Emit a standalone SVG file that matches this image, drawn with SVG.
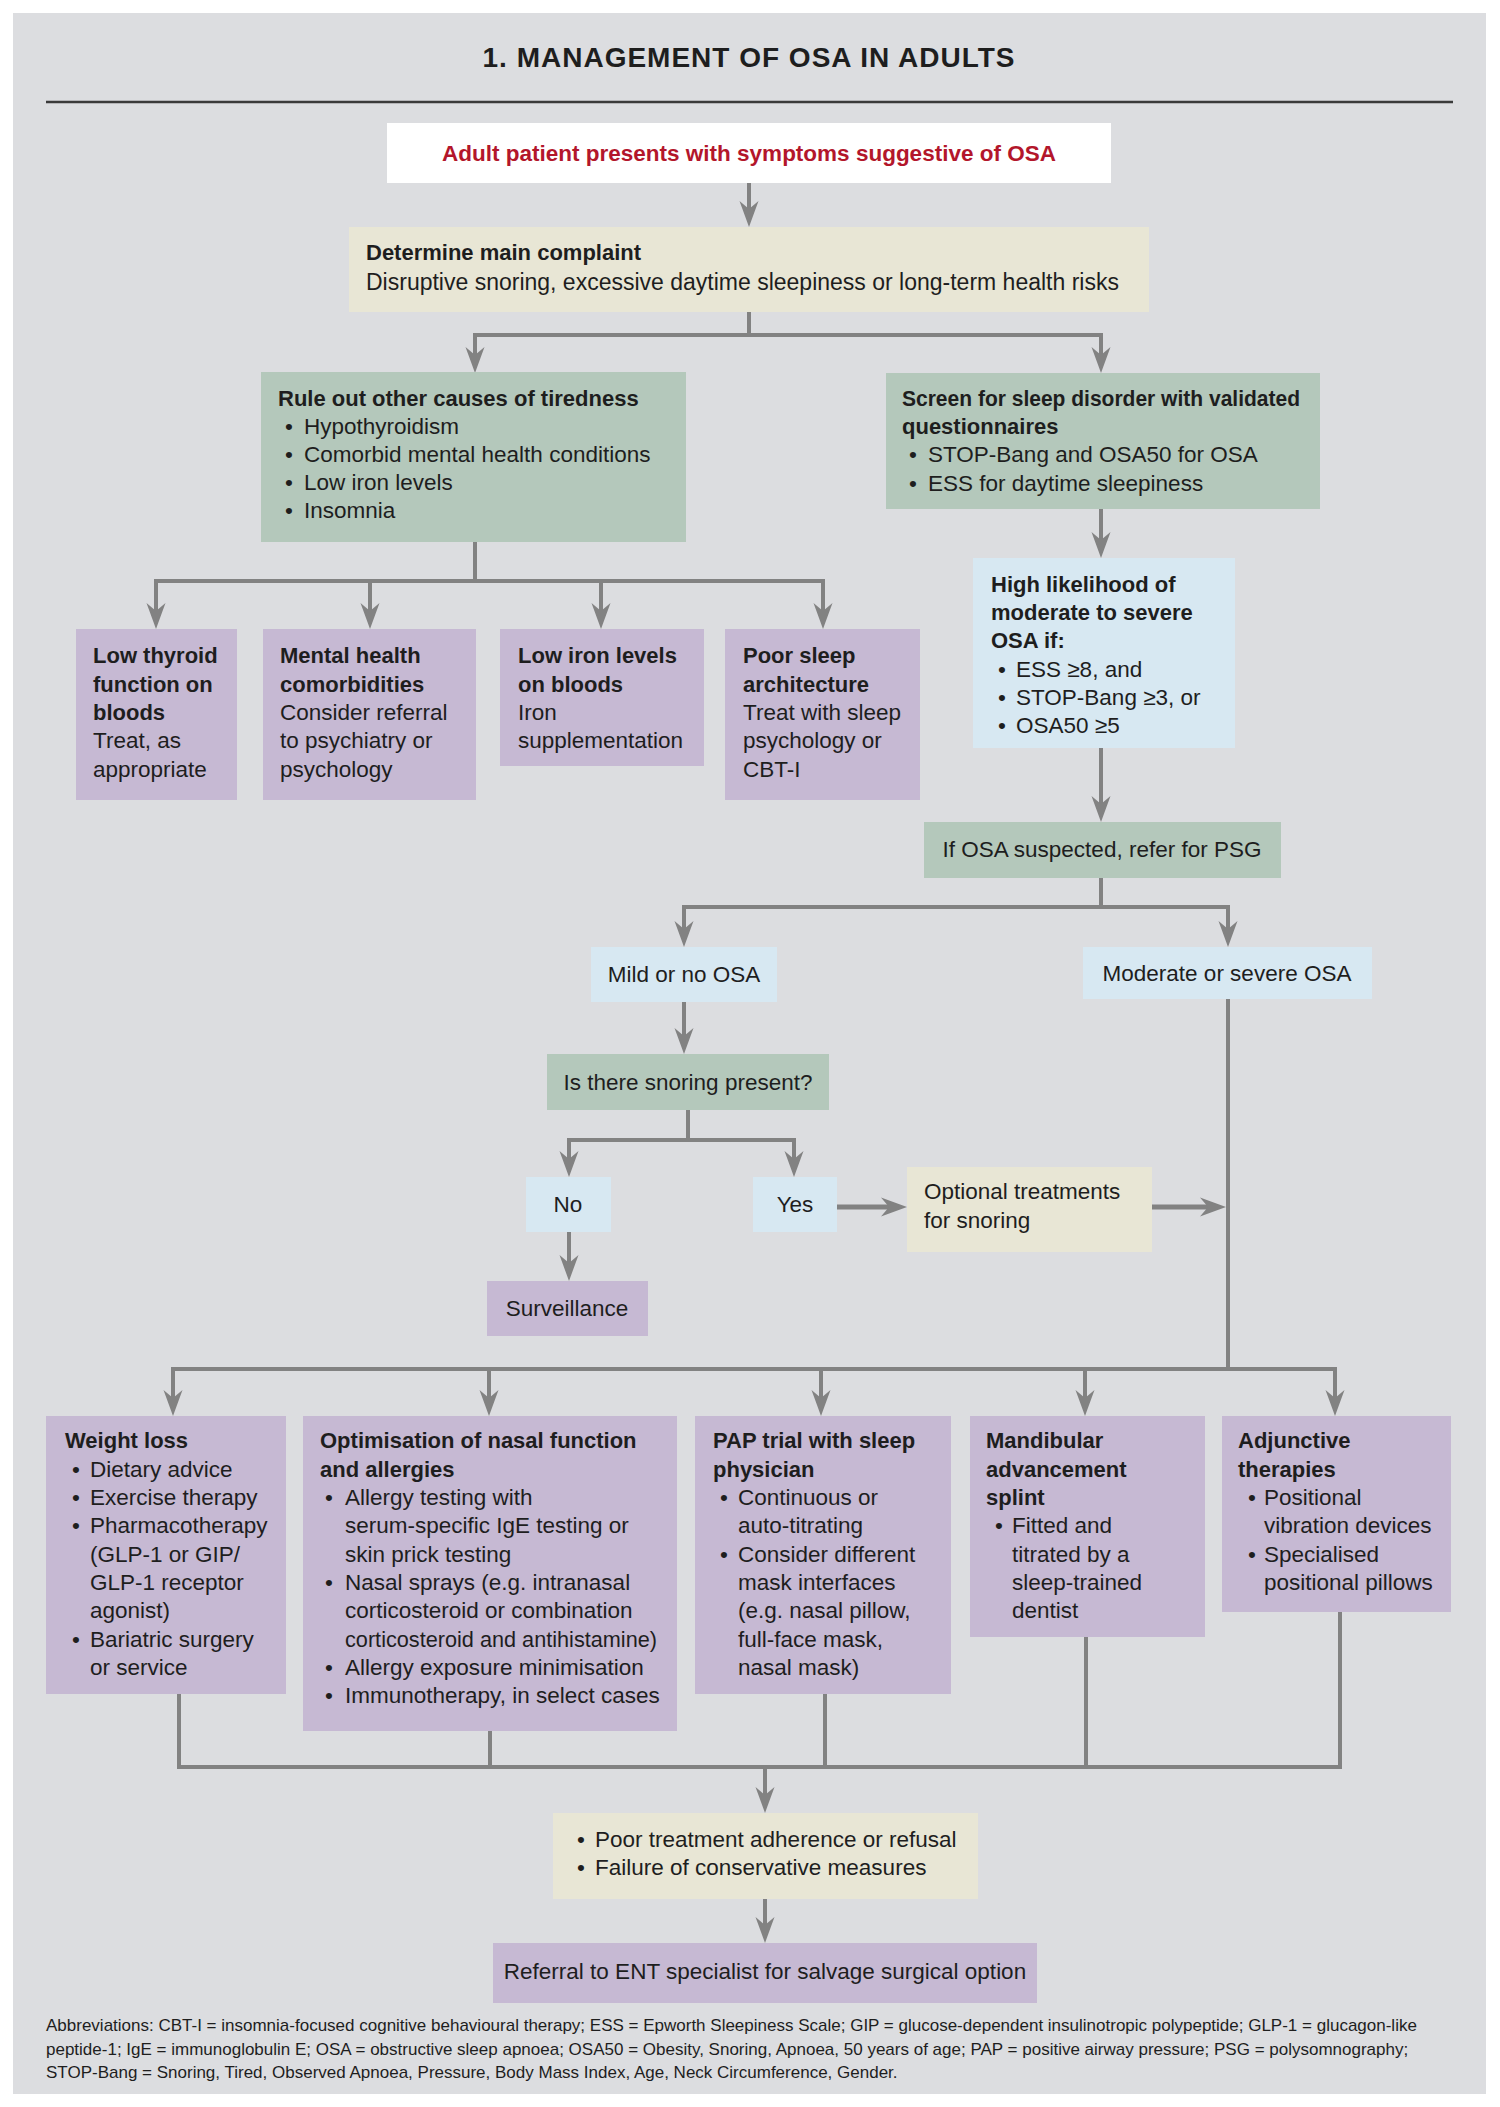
<svg xmlns="http://www.w3.org/2000/svg" width="1500" height="2107" viewBox="0 0 1500 2107">
<style>
.t{font-family:"Liberation Sans",Arial,sans-serif;font-size:22.5px;fill:#1e1e1e}
.b{font-weight:bold;font-size:22px}
.c{text-anchor:middle}
.ab{font-family:"Liberation Sans",Arial,sans-serif;font-size:17px;fill:#1e1e1e}
.green{fill:#b4c8bb}
.beige{fill:#e8e6d5}
.blue{fill:#d7e8f2}
.purple{fill:#c6b9d3}
.conn path{fill:none;stroke:#828282;stroke-width:4}
.conn path.thick{stroke-width:5}
</style>
<defs>
<marker id="ah" markerUnits="userSpaceOnUse" viewBox="-20 -12 32 24" markerWidth="32" markerHeight="24" refX="0" refY="0" orient="auto-start-reverse" overflow="visible">
<path d="M10,0 L-16,-9.5 L-8,0 L-16,9.5 Z" fill="#828282"/>
</marker>
</defs>
<rect x="0" y="0" width="1500" height="2107" fill="#ffffff"/>
<rect x="13" y="13" width="1473" height="2081" fill="#dcdde0"/>
<g id="title">
<text class="t b c" x="749" y="67" style="font-size:28px;letter-spacing:1px">1. MANAGEMENT OF OSA IN ADULTS</text>
<line x1="46" y1="102" x2="1453" y2="102" stroke="#3a3a3a" stroke-width="2.5"/>
</g>

<g class="conn" id="connectors">
<path d="M749,183 V217" marker-end="url(#ah)"/>
<path d="M749,312 V335"/>
<path d="M475,363 V335 H1101 V363" marker-start="url(#ah)" marker-end="url(#ah)"/>
<path d="M475,542 V581"/>
<path d="M156,619 V581 H823 V619" marker-start="url(#ah)" marker-end="url(#ah)"/>
<path d="M370,581 V619" marker-end="url(#ah)"/>
<path d="M601,581 V619" marker-end="url(#ah)"/>
<path d="M1101,509 V548" marker-end="url(#ah)"/>
<path d="M1101,748 V812" marker-end="url(#ah)"/>
<path d="M1101,878 V907"/>
<path d="M684,937 V907 H1228 V937" marker-start="url(#ah)" marker-end="url(#ah)"/>
<path d="M684,1002 V1044" marker-end="url(#ah)"/>
<path d="M688,1110 V1140"/>
<path d="M569,1167 V1140 H794 V1167" marker-start="url(#ah)" marker-end="url(#ah)"/>
<path d="M569,1232 V1271" marker-end="url(#ah)"/>
<path class="thick" d="M837,1207 H897" marker-end="url(#ah)"/>
<path class="thick" d="M1152,1207 H1216" marker-end="url(#ah)"/>
<path d="M1228,999 V1369"/>
<path d="M173,1406 V1369 H1335 V1406" marker-start="url(#ah)" marker-end="url(#ah)"/>
<path d="M489,1369 V1406" marker-end="url(#ah)"/>
<path d="M821,1369 V1406" marker-end="url(#ah)"/>
<path d="M1085,1369 V1406" marker-end="url(#ah)"/>
<path d="M179,1694 V1767 H1340 V1612"/>
<path d="M490,1731 V1767"/>
<path d="M825,1694 V1767"/>
<path d="M1086,1637 V1767"/>
<path d="M765,1767 V1803" marker-end="url(#ah)"/>
<path d="M765,1899 V1933" marker-end="url(#ah)"/>
</g>

<g id="start">
<rect x="387" y="123" width="724" height="60" fill="#ffffff"/>
<text class="t b c" x="749" y="161" style="fill:#b3162b;font-size:22.5px">Adult patient presents with symptoms suggestive of OSA</text>
</g>
<g id="complaint">
<rect class="beige" x="349" y="227" width="800" height="85"/>
<text class="t b" x="366" y="260">Determine main complaint</text>
<text class="t" x="366" y="290" style="font-size:23px">Disruptive snoring, excessive daytime sleepiness or long-term health risks</text>
</g>
<g id="ruleout">
<rect class="green" x="261" y="372" width="425" height="170"/>
<text class="t b" x="278" y="406">Rule out other causes of tiredness</text>
<text class="t" x="285" y="434">•</text><text class="t" x="304" y="434">Hypothyroidism</text>
<text class="t" x="285" y="462">•</text><text class="t" x="304" y="462">Comorbid mental health conditions</text>
<text class="t" x="285" y="490">•</text><text class="t" x="304" y="490">Low iron levels</text>
<text class="t" x="285" y="518">•</text><text class="t" x="304" y="518">Insomnia</text>
</g>
<g id="screen">
<rect class="green" x="886" y="373" width="434" height="136"/>
<text class="t b" x="902" y="406" textLength="398" lengthAdjust="spacingAndGlyphs">Screen for sleep disorder with validated</text>
<text class="t b" x="902" y="434">questionnaires</text>
<text class="t" x="909" y="462">•</text><text class="t" x="928" y="462">STOP-Bang and OSA50 for OSA</text>
<text class="t" x="909" y="491">•</text><text class="t" x="928" y="491">ESS for daytime sleepiness</text>
</g>
<g id="thyroid">
<rect class="purple" x="76" y="629" width="161" height="171"/>
<text class="t b" x="93" y="663">Low thyroid</text>
<text class="t b" x="93" y="692">function on</text>
<text class="t b" x="93" y="720">bloods</text>
<text class="t" x="93" y="748">Treat, as</text>
<text class="t" x="93" y="777">appropriate</text>
</g>
<g id="mental">
<rect class="purple" x="263" y="629" width="213" height="171"/>
<text class="t b" x="280" y="663">Mental health</text>
<text class="t b" x="280" y="692">comorbidities</text>
<text class="t" x="280" y="720">Consider referral</text>
<text class="t" x="280" y="748">to psychiatry or</text>
<text class="t" x="280" y="777">psychology</text>
</g>
<g id="iron">
<rect class="purple" x="500" y="629" width="204" height="137"/>
<text class="t b" x="518" y="663">Low iron levels</text>
<text class="t b" x="518" y="692">on bloods</text>
<text class="t" x="518" y="720">Iron</text>
<text class="t" x="518" y="748">supplementation</text>
</g>
<g id="sleeparch">
<rect class="purple" x="725" y="629" width="195" height="171"/>
<text class="t b" x="743" y="663">Poor sleep</text>
<text class="t b" x="743" y="692">architecture</text>
<text class="t" x="743" y="720">Treat with sleep</text>
<text class="t" x="743" y="748">psychology or</text>
<text class="t" x="743" y="777">CBT-I</text>
</g>
<g id="likelihood">
<rect class="blue" x="973" y="558" width="262" height="190"/>
<text class="t b" x="991" y="592">High likelihood of</text>
<text class="t b" x="991" y="620">moderate to severe</text>
<text class="t b" x="991" y="648">OSA if:</text>
<text class="t" x="998" y="677">•</text><text class="t" x="1016" y="677">ESS ≥8, and</text>
<text class="t" x="998" y="705">•</text><text class="t" x="1016" y="705">STOP-Bang ≥3, or</text>
<text class="t" x="998" y="733">•</text><text class="t" x="1016" y="733">OSA50 ≥5</text>
</g>
<g id="psg">
<rect class="green" x="924" y="822" width="357" height="56"/>
<text class="t c" x="1102" y="857">If OSA suspected, refer for PSG</text>
</g>
<g id="mild">
<rect class="blue" x="591" y="947" width="186" height="55"/>
<text class="t c" x="684" y="982">Mild or no OSA</text>
</g>
<g id="moderate">
<rect class="blue" x="1083" y="947" width="289" height="52"/>
<text class="t c" x="1227" y="981">Moderate or severe OSA</text>
</g>
<g id="snoring">
<rect class="green" x="547" y="1054" width="282" height="56"/>
<text class="t c" x="688" y="1090">Is there snoring present?</text>
</g>
<g id="no">
<rect class="blue" x="526" y="1177" width="85" height="55"/>
<text class="t c" x="568" y="1212">No</text>
</g>
<g id="yes">
<rect class="blue" x="753" y="1177" width="84" height="55"/>
<text class="t c" x="795" y="1212">Yes</text>
</g>
<g id="optional">
<rect class="beige" x="907" y="1167" width="245" height="85"/>
<text class="t" x="924" y="1199">Optional treatments</text>
<text class="t" x="924" y="1228">for snoring</text>
</g>
<g id="surveillance">
<rect class="purple" x="487" y="1281" width="161" height="55"/>
<text class="t c" x="567" y="1316">Surveillance</text>
</g>
<g id="weight">
<rect class="purple" x="46" y="1416" width="240" height="278"/>
<text class="t b" x="65" y="1448">Weight loss</text>
<text class="t" x="72" y="1477">•</text><text class="t" x="90" y="1477">Dietary advice</text>
<text class="t" x="72" y="1505">•</text><text class="t" x="90" y="1505">Exercise therapy</text>
<text class="t" x="72" y="1533">•</text><text class="t" x="90" y="1533">Pharmacotherapy</text>
<text class="t" x="90" y="1562">(GLP-1 or GIP/</text>
<text class="t" x="90" y="1590">GLP-1 receptor</text>
<text class="t" x="90" y="1618">agonist)</text>
<text class="t" x="72" y="1647">•</text><text class="t" x="90" y="1647">Bariatric surgery</text>
<text class="t" x="90" y="1675">or service</text>
</g>
<g id="nasal">
<rect class="purple" x="303" y="1416" width="374" height="315"/>
<text class="t b" x="320" y="1448">Optimisation of nasal function</text>
<text class="t b" x="320" y="1477">and allergies</text>
<text class="t" x="325" y="1505">•</text><text class="t" x="345" y="1505">Allergy testing with</text>
<text class="t" x="345" y="1533">serum-specific IgE testing or</text>
<text class="t" x="345" y="1562">skin prick testing</text>
<text class="t" x="325" y="1590">•</text><text class="t" x="345" y="1590">Nasal sprays (e.g. intranasal</text>
<text class="t" x="345" y="1618">corticosteroid or combination</text>
<text class="t" x="345" y="1647" textLength="312" lengthAdjust="spacingAndGlyphs">corticosteroid and antihistamine)</text>
<text class="t" x="325" y="1675">•</text><text class="t" x="345" y="1675">Allergy exposure minimisation</text>
<text class="t" x="325" y="1703">•</text><text class="t" x="345" y="1703">Immunotherapy, in select cases</text>
</g>
<g id="pap">
<rect class="purple" x="695" y="1416" width="256" height="278"/>
<text class="t b" x="713" y="1448">PAP trial with sleep</text>
<text class="t b" x="713" y="1477">physician</text>
<text class="t" x="720" y="1505">•</text><text class="t" x="738" y="1505">Continuous or</text>
<text class="t" x="738" y="1533">auto-titrating</text>
<text class="t" x="720" y="1562">•</text><text class="t" x="738" y="1562">Consider different</text>
<text class="t" x="738" y="1590">mask interfaces</text>
<text class="t" x="738" y="1618">(e.g. nasal pillow,</text>
<text class="t" x="738" y="1647">full-face mask,</text>
<text class="t" x="738" y="1675">nasal mask)</text>
</g>
<g id="mandibular">
<rect class="purple" x="970" y="1416" width="235" height="221"/>
<text class="t b" x="986" y="1448">Mandibular</text>
<text class="t b" x="986" y="1477">advancement</text>
<text class="t b" x="986" y="1505">splint</text>
<text class="t" x="995" y="1533">•</text><text class="t" x="1012" y="1533">Fitted and</text>
<text class="t" x="1012" y="1562">titrated by a</text>
<text class="t" x="1012" y="1590">sleep-trained</text>
<text class="t" x="1012" y="1618">dentist</text>
</g>
<g id="adjunctive">
<rect class="purple" x="1222" y="1416" width="229" height="196"/>
<text class="t b" x="1238" y="1448">Adjunctive</text>
<text class="t b" x="1238" y="1477">therapies</text>
<text class="t" x="1248" y="1505">•</text><text class="t" x="1264" y="1505">Positional</text>
<text class="t" x="1264" y="1533">vibration devices</text>
<text class="t" x="1248" y="1562">•</text><text class="t" x="1264" y="1562">Specialised</text>
<text class="t" x="1264" y="1590">positional pillows</text>
</g>
<g id="failure">
<rect class="beige" x="553" y="1813" width="425" height="86"/>
<text class="t" x="577" y="1847">•</text><text class="t" x="595" y="1847">Poor treatment adherence or refusal</text>
<text class="t" x="577" y="1875">•</text><text class="t" x="595" y="1875">Failure of conservative measures</text>
</g>
<g id="referral">
<rect class="purple" x="493" y="1943" width="544" height="60"/>
<text class="t c" x="765" y="1979">Referral to ENT specialist for salvage surgical option</text>
</g>
<g id="abbreviations">
<text class="ab" x="46" y="2031">Abbreviations: CBT-I = insomnia-focused cognitive behavioural therapy; ESS = Epworth Sleepiness Scale; GIP = glucose-dependent insulinotropic polypeptide; GLP-1 = glucagon-like</text>
<text class="ab" x="46" y="2055">peptide-1; IgE = immunoglobulin E; OSA = obstructive sleep apnoea; OSA50 = Obesity, Snoring, Apnoea, 50 years of age; PAP = positive airway pressure; PSG = polysomnography;</text>
<text class="ab" x="46" y="2078">STOP-Bang = Snoring, Tired, Observed Apnoea, Pressure, Body Mass Index, Age, Neck Circumference, Gender.</text>
</g>
</svg>
